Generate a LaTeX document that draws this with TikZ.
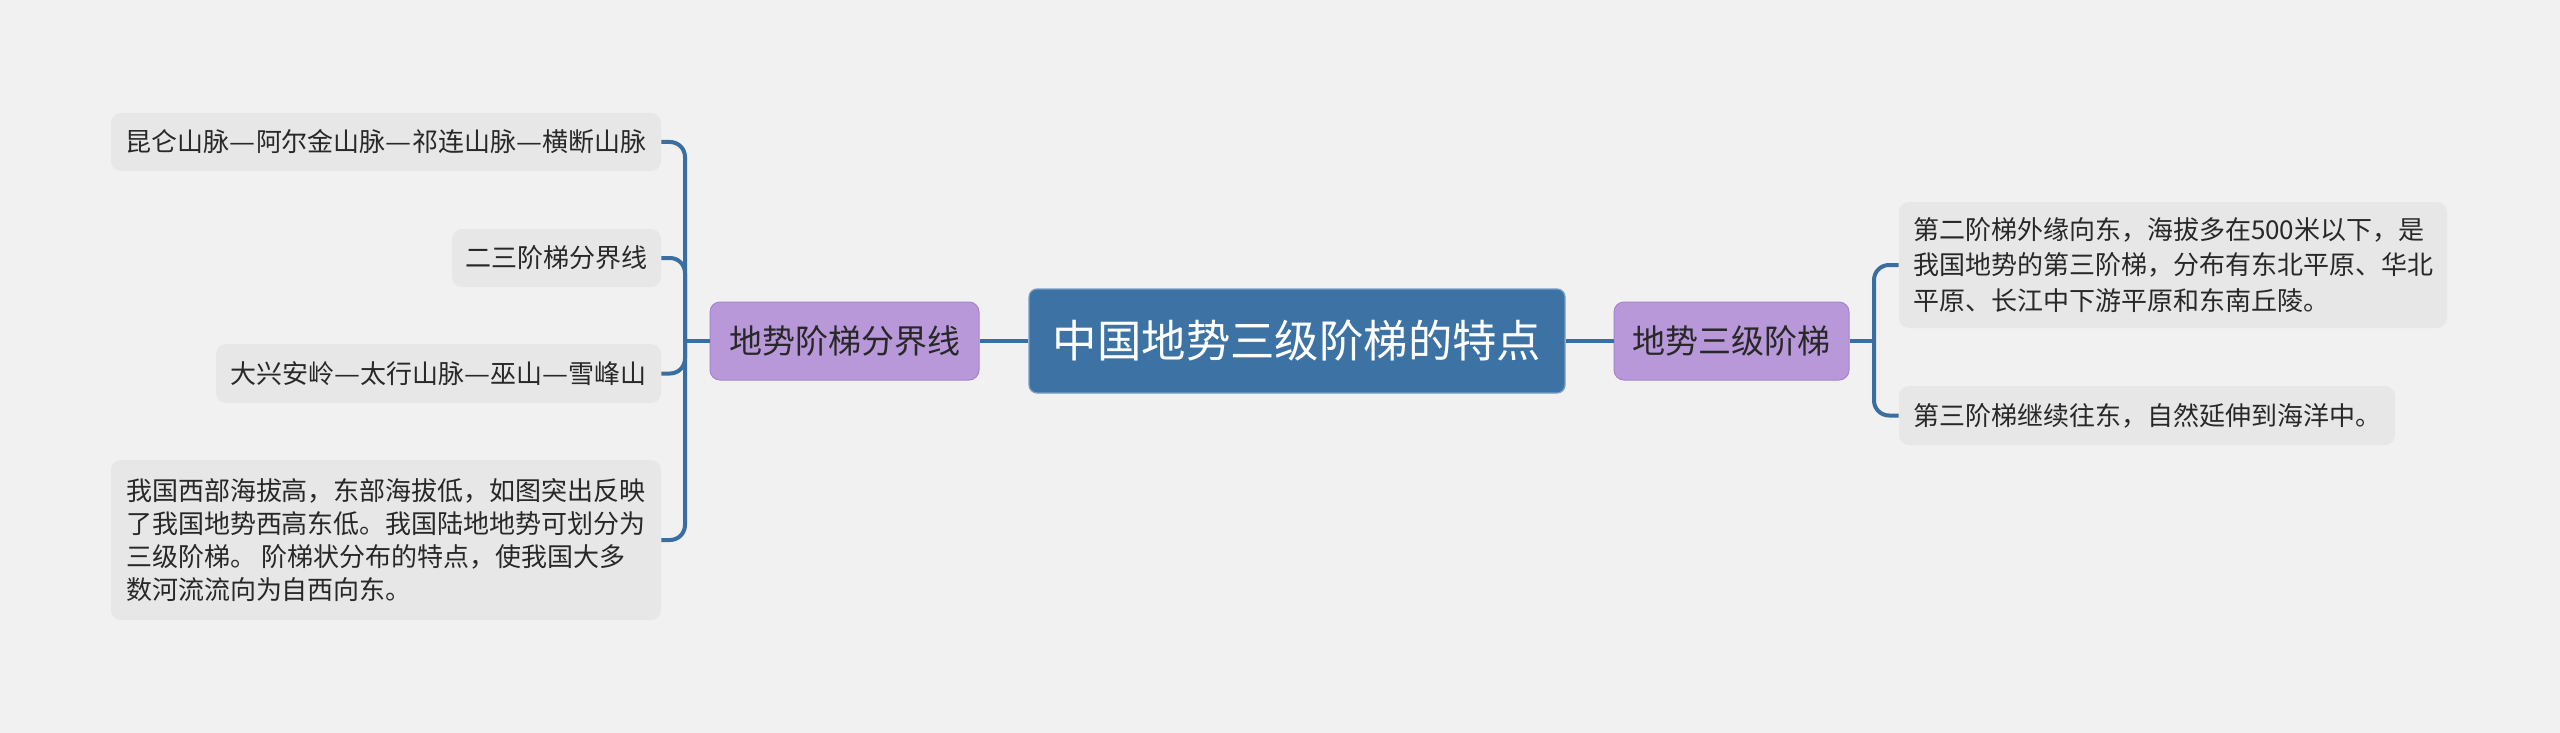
\documentclass[tikz,border=0pt]{standalone}
\usepackage{fontspec}
\setmainfont{Noto Sans CJK SC}
\definecolor{bgc}{RGB}{241,241,241}
\definecolor{leafc}{RGB}{231,231,231}
\definecolor{purc}{RGB}{184,152,217}
\definecolor{purb}{RGB}{165,132,205}
\definecolor{cenc}{RGB}{61,114,165}
\definecolor{cenb}{RGB}{120,158,200}
\definecolor{linec}{RGB}{58,110,160}
\definecolor{txt}{RGB}{40,40,40}
\newcommand{\fwdash}{\resizebox{1em}{\height}{—}}
\begin{document}
\begin{tikzpicture}[x=0.5pt,y=-0.5pt,
  leaf/.style={fill=leafc, rounded corners=5pt, inner sep=0pt, text=txt,
    font=\fontsize{13pt}{17pt}\selectfont, align=left},
  sub/.style={fill=purc, draw=purb, line width=0.5pt, rounded corners=5pt, inner sep=0pt,
    text=txt, font=\fontsize{16.5pt}{20pt}\selectfont, minimum height=39pt},
  cen/.style={fill=cenc, draw=cenb, line width=0.6pt, rounded corners=4pt, inner sep=0pt,
    text=white, font=\fontsize{22.2pt}{26pt}\selectfont, minimum width=268pt, minimum height=52pt},
  conn/.style={draw=linec, line width=2pt},
  br/.style={conn, rounded corners=7.5pt}]
\useasboundingbox (0,0) rectangle (2560,733);
\fill[bgc] (0,0) rectangle (2560,733);

\node[cen] (C) at (1297,341) {中国地势三级阶梯的特点};
\node[sub, minimum width=134.5pt] (PL) at (844.5,341) {地势阶梯分界线};
\node[sub, minimum width=117.5pt] (PR) at (1731.5,341) {地势三级阶梯};

\node[leaf, minimum width=275pt, minimum height=29pt] (L1) at (386,142) {昆仑山脉\fwdash 阿尔金山脉\fwdash 祁连山脉\fwdash 横断山脉};
\node[leaf, minimum width=104.5pt, minimum height=29pt] (L2) at (556.5,258) {二三阶梯分界线};
\node[leaf, minimum width=222.5pt, minimum height=29.5pt] (L3) at (438.5,373.5) {大兴安岭\fwdash 太行山脉\fwdash 巫山\fwdash 雪峰山};
\node[leaf, minimum width=275pt, minimum height=80pt, font=\fontsize{13pt}{16.5pt}\selectfont] (L4) at (386,540)
  {我国西部海拔高，东部海拔低，如图突出反映\\了我国地势西高东低。我国陆地地势可划分为\\三级阶梯。 阶梯状分布的特点，使我国大多\\数河流流向为自西向东。};

\node[leaf, minimum width=274pt, minimum height=63pt, font=\fontsize{13pt}{17.75pt}\selectfont] (R1) at (2173,265)
  {第二阶梯外缘向东，海拔多在500米以下，是\\我国地势的第三阶梯，分布有东北平原、华北\\平原、长江中下游平原和东南丘陵。};
\node[leaf, minimum width=248pt, minimum height=29.5pt] (R2) at (2147,415.5) {第三阶梯继续往东，自然延伸到海洋中。};

\coordinate (jl) at (685,341);
\coordinate (jr) at (1874,341);
\draw[conn] (C.west) -- (PL.east);
\draw[conn] (C.east) -- (PR.west);
\draw[conn] (PL.west) -- (jl);
\draw[conn] (PR.east) -- (jr);
\draw[br] (jl) |- (L1.east);
\draw[br] (jl) |- (L2.east);
\draw[br] (jl) |- (L3.east);
\draw[br] (jl) |- (L4.east);
\draw[br] (jr) |- (R1.west);
\draw[br] (jr) |- (R2.west);
\end{tikzpicture}
\end{document}
